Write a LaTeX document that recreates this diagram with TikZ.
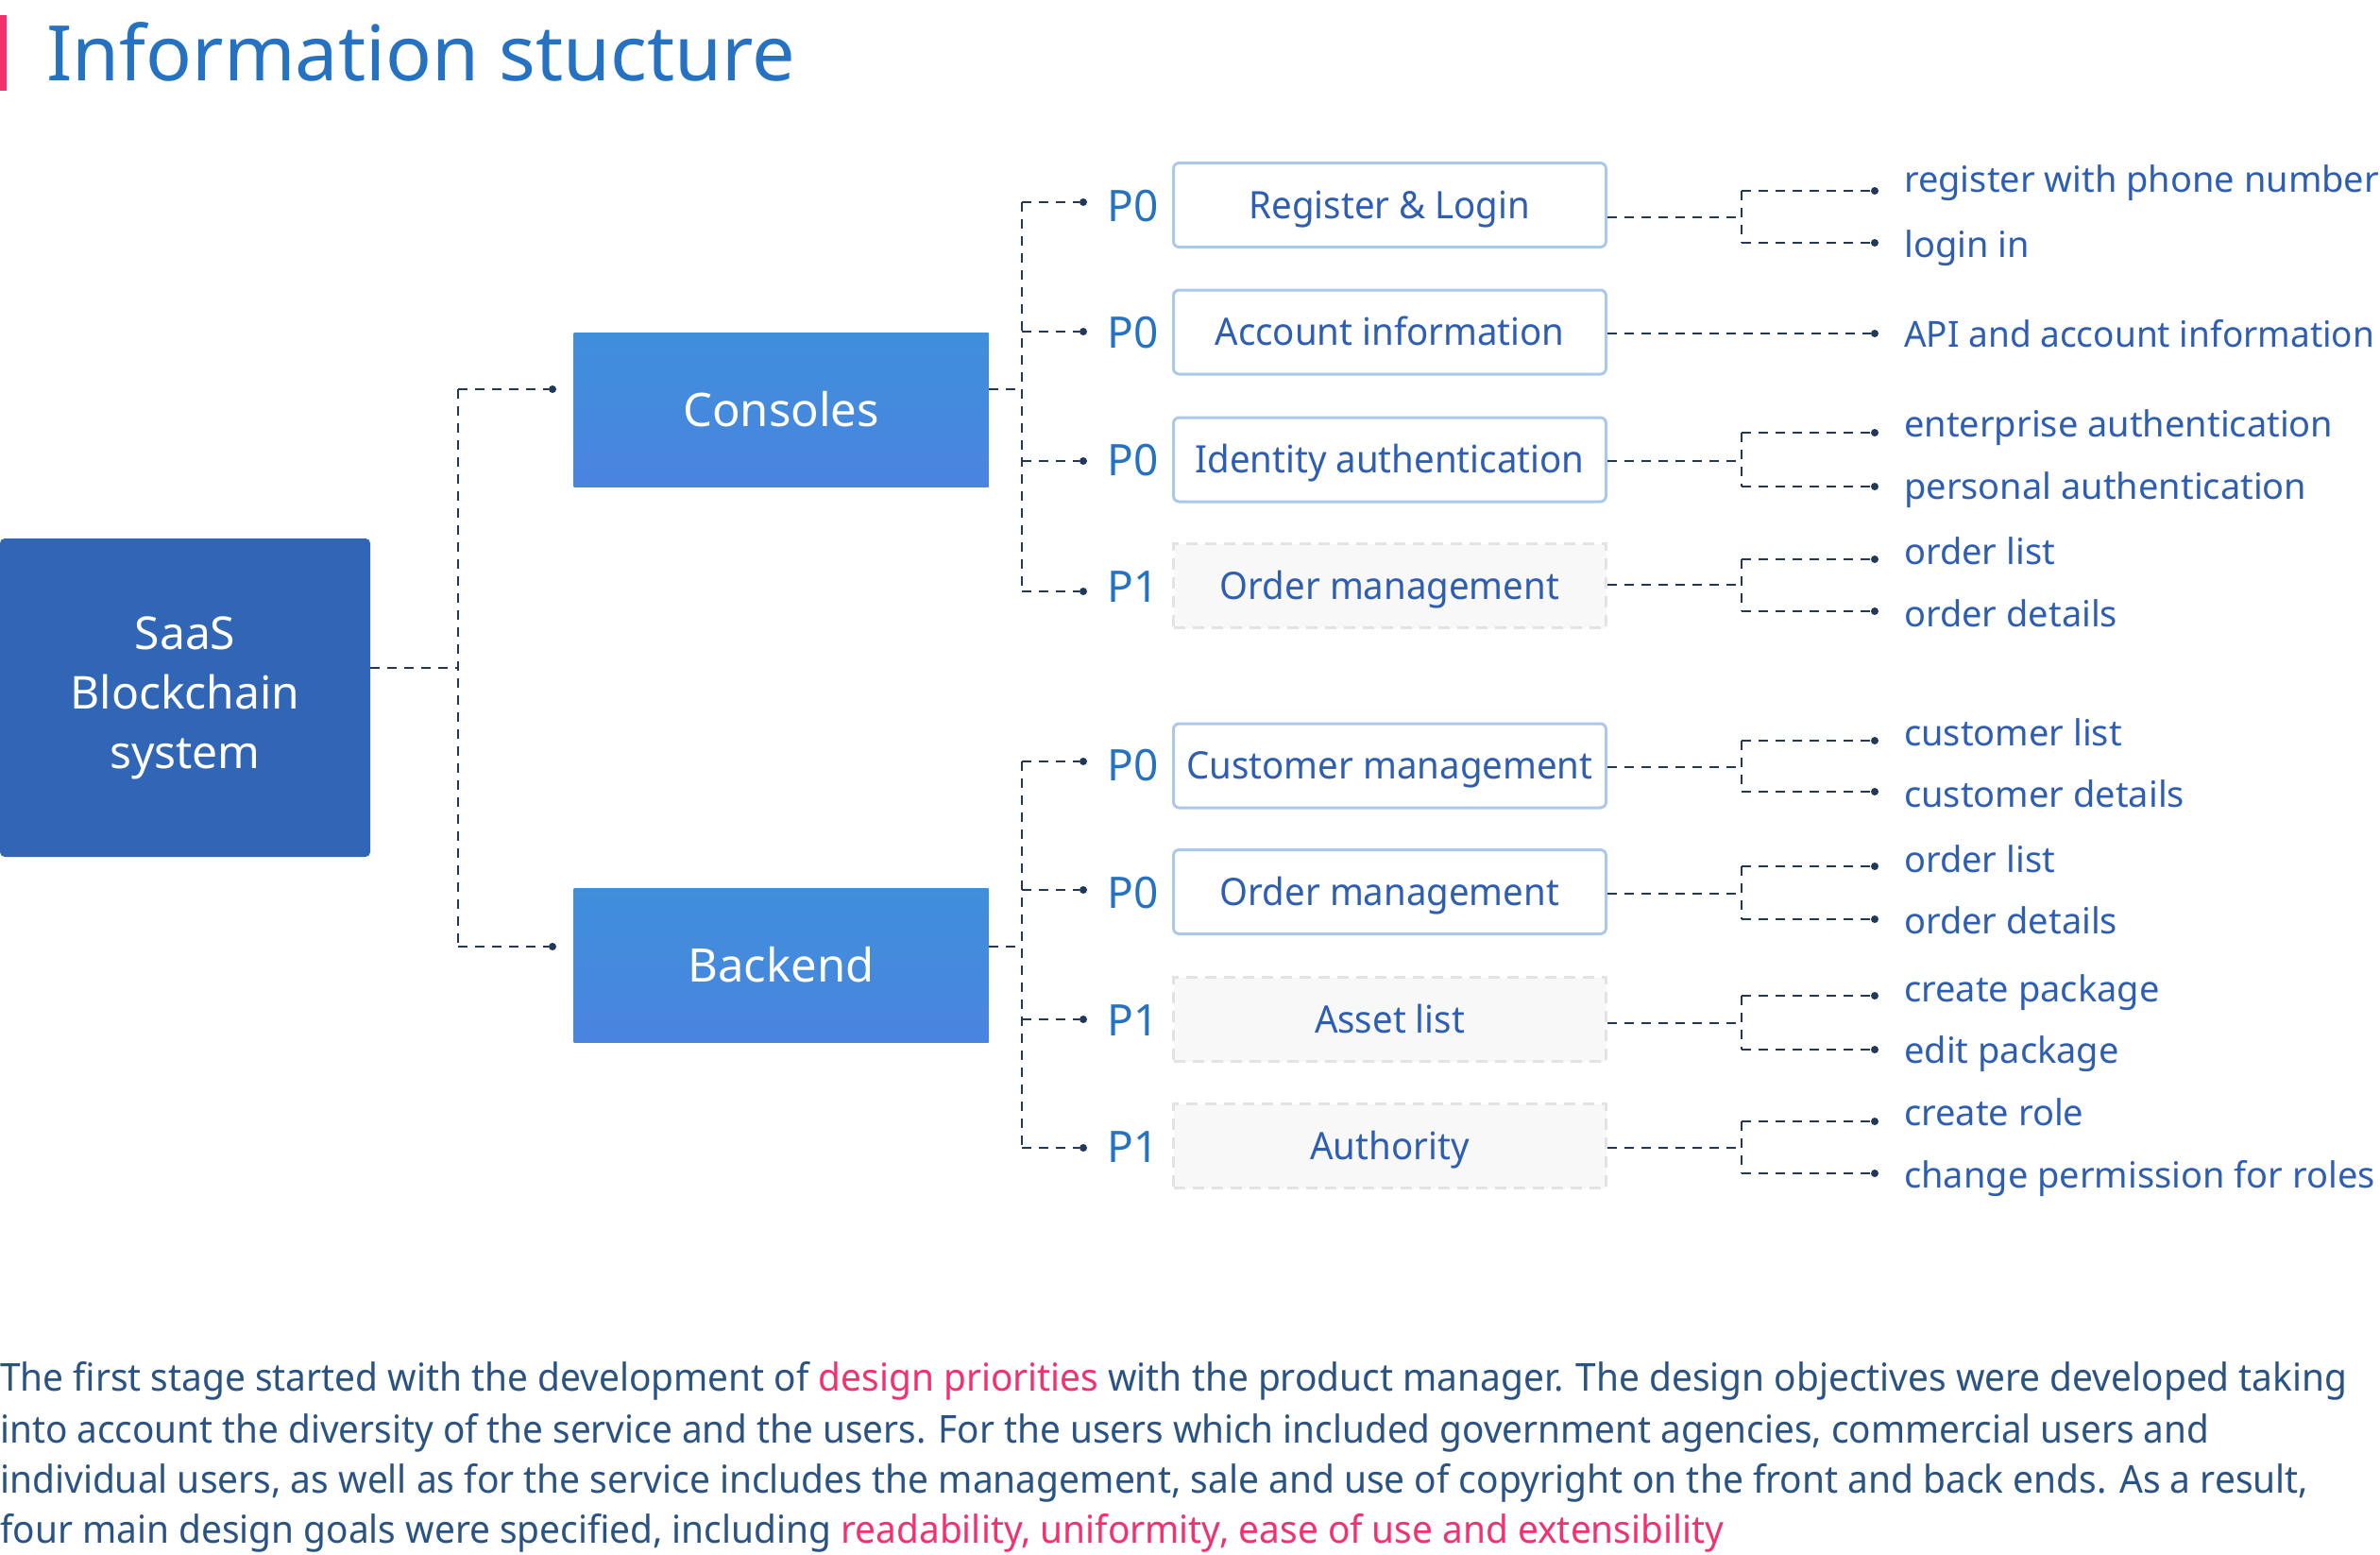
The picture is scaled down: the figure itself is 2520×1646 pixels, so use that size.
\documentclass[tikz,border=0pt]{standalone}
\usepackage{fontspec}
\setmainfont{Noto Sans}
\newfontfamily\boxfont[FakeStretch=0.96]{Noto Sans}
\usepackage{graphicx}
\definecolor{titleblue}{HTML}{2672C2}
\definecolor{pinkc}{HTML}{F2316F}
\definecolor{rootc}{HTML}{3165B5}
\definecolor{catca}{HTML}{3F8FDB}
\definecolor{catcb}{HTML}{4A84E0}
\definecolor{boxborder}{HTML}{A9C8EC}
\definecolor{labc}{HTML}{2E5EB3}
\definecolor{grayborder}{HTML}{E3E3E3}
\definecolor{grayfill}{HTML}{F8F8F8}
\definecolor{connc}{HTML}{22385A}
\definecolor{bodyc}{HTML}{2A5385}
\newcommand{\fitw}[2]{\resizebox{#1}{\height}{#2}}
\begin{document}
\begin{tikzpicture}[x=1pt,y=-1pt,
  conn/.style={draw=connc, line width=2pt, dash pattern=on 10pt off 8pt},
  dotn/.style={circle, fill=connc, inner sep=0pt, minimum size=8pt},
  rootbox/.style={fill=rootc, rounded corners=5pt, minimum width=392pt, minimum height=337pt, text=white, font=\fontsize{48}{63}\selectfont, align=center, inner sep=0pt},
  catbox/.style={top color=catca, bottom color=catcb, minimum width=439pt, minimum height=163pt, text=white, font=\fontsize{49}{58}\selectfont, inner sep=0pt},
  pzero/.style={draw=boxborder, line width=3pt, rounded corners=6pt, fill=white, minimum width=458pt, minimum height=89pt, text=labc, font=\boxfont\fontsize{40}{48}\selectfont, text height=28.6pt, text depth=0pt, inner sep=0pt},
  pone/.style={draw=grayborder, fill=grayfill, line width=3pt, dash pattern=on 12pt off 8pt, minimum width=458pt, minimum height=89pt, text=labc, font=\boxfont\fontsize{40}{48}\selectfont, text height=28.6pt, text depth=0pt, inner sep=0pt},
  plab/.style={anchor=base west, text=titleblue, font=\fontsize{46}{50}\selectfont, inner sep=0pt},
  leaf/.style={anchor=base west, text=labc, font=\fontsize{38}{44}\selectfont, inner sep=0pt},
  body/.style={anchor=base west, text=bodyc, font=\fontsize{40.6}{54}\selectfont, inner sep=0pt}]
\useasboundingbox (0,0) rectangle (2520,1646);

% title
\fill[pinkc] (0,16) rectangle (7,96);
\node[anchor=base west, inner sep=0pt, text=titleblue, font=\fontsize{81}{90}\selectfont] (title) at (49,85) {Information stucture};

% main boxes
\node[rootbox] (root) at (196,738.5) {SaaS\\Blockchain\\system};
\node[catbox] (cons) at (827,433.5) {Consoles};
\node[catbox] (back) at (827,1021.5) {Backend};

% child boxes
\node[pzero] (c1) at (1471.5,217) {Register \& Login};
\node[pzero] (c2) at (1471.5,351.5) {Account information};
\node[pzero] (c3) at (1471.5,486.5) {Identity authentication};
\node[pone]  (c4) at (1471.5,620) {Order management};
\node[pzero] (b1) at (1471.5,810.5) {Customer management};
\node[pzero] (b2) at (1471.5,944) {Order management};
\node[pone]  (b3) at (1471.5,1079) {Asset list};
\node[pone]  (b4) at (1471.5,1213) {Authority};

% priority labels
\node[plab] (pc1) at (1172,234) {P0};
\node[plab] (pc2) at (1172,368.5) {P0};
\node[plab] (pc3) at (1172,503.5) {P0};
\node[plab] (pc4) at (1172,637) {P1};
\node[plab] (pb1) at (1172,826) {P0};
\node[plab] (pb2) at (1172,961) {P0};
\node[plab] (pb3) at (1172,1096) {P1};
\node[plab] (pb4) at (1172,1230) {P1};

% root connectors
\node[dotn] (dcons) at (585,412) {};
\node[dotn] (dback) at (585,1002) {};
\coordinate (rj) at (485,707);
\draw[conn] (rj -| root.east) -- (rj);
\draw[conn] (dcons -| rj) -- (dback -| rj);
\draw[conn] (dcons -| rj) -- (dcons);
\draw[conn] (dback -| rj) -- (dback);

% consoles connectors
\coordinate (cj) at (1082,412);
\node[dotn] (dc1) at (1147,214) {};
\node[dotn] (dc2) at (1147,351) {};
\node[dotn] (dc3) at (1147,488) {};
\node[dotn] (dc4) at (1147,626) {};
\draw[conn] (cj -| cons.east) -- (cj);
\draw[conn] (dc1 -| cj) -- (dc4 -| cj);
\foreach \d in {dc1,dc2,dc3,dc4} {\draw[conn] (\d -| cj) -- (\d);}

% backend connectors
\coordinate (bj) at (1082,1002);
\node[dotn] (db1) at (1147,806) {};
\node[dotn] (db2) at (1147,942) {};
\node[dotn] (db3) at (1147,1079) {};
\node[dotn] (db4) at (1147,1215) {};
\draw[conn] (bj -| back.east) -- (bj);
\draw[conn] (db1 -| bj) -- (db4 -| bj);
\foreach \d in {db1,db2,db3,db4} {\draw[conn] (\d -| bj) -- (\d);}

% leaves
\node[dotn] (uc2) at (1985,353) {};
\node[leaf] (tuc2) at (2016,367) {\fitw{498pt}{API and account information}};
\draw[conn] (uc2 -| c2.east) -- (uc2);

\foreach \n/\J/\U/\L/\ub/\lb/\ut/\lt in {
 c1/230/202/257/203/272/{register with phone number}/{login in},
 c3/488/458/515/462/528/{enterprise authentication}/{personal authentication},
 c4/619/592/647/597/663/{order list}/{order details},
 b1/812/784/838/789/854/{customer list}/{customer details},
 b2/946/917/973/923/988/{order list}/{order details},
 b3/1083/1054/1111/1060/1125/{create package}/{edit package},
 b4/1215/1187/1242/1191/1257/{create role}/{change permission for roles}}
{
 \coordinate (j\n) at (1844,\J);
 \node[dotn] (u\n) at (1985,\U) {};
 \node[dotn] (l\n) at (1985,\L) {};
 \node[leaf] (tu\n) at (2016,\ub) {\ut};
 \node[leaf] (tl\n) at (2016,\lb) {\lt};
 \draw[conn] (j\n -| \n.east) -- (j\n);
 \draw[conn] (u\n -| j\n) -- (l\n -| j\n);
 \draw[conn] (u\n -| j\n) -- (u\n);
 \draw[conn] (l\n -| j\n) -- (l\n);
}

% body text
\node[body] (p1) at (0,1472) {\fitw{2485pt}{The first stage started with the development of \textcolor{pinkc}{design priorities} with the product manager. The design objectives were developed taking}};
\node[body] (p2) at (0,1527) {\fitw{2339pt}{into account the diversity of the service and the users. For the users which included government agencies, commercial users and}};
\node[body] (p3) at (0,1580) {\fitw{2444pt}{individual users, as well as for the service includes the management, sale and use of copyright on the front and back ends. As a result,}};
\node[body] (p4) at (0,1633) {\fitw{1825pt}{four main design goals were specified, including \textcolor{pinkc}{readability, uniformity, ease of use and extensibility}}};
\end{tikzpicture}
\end{document}
